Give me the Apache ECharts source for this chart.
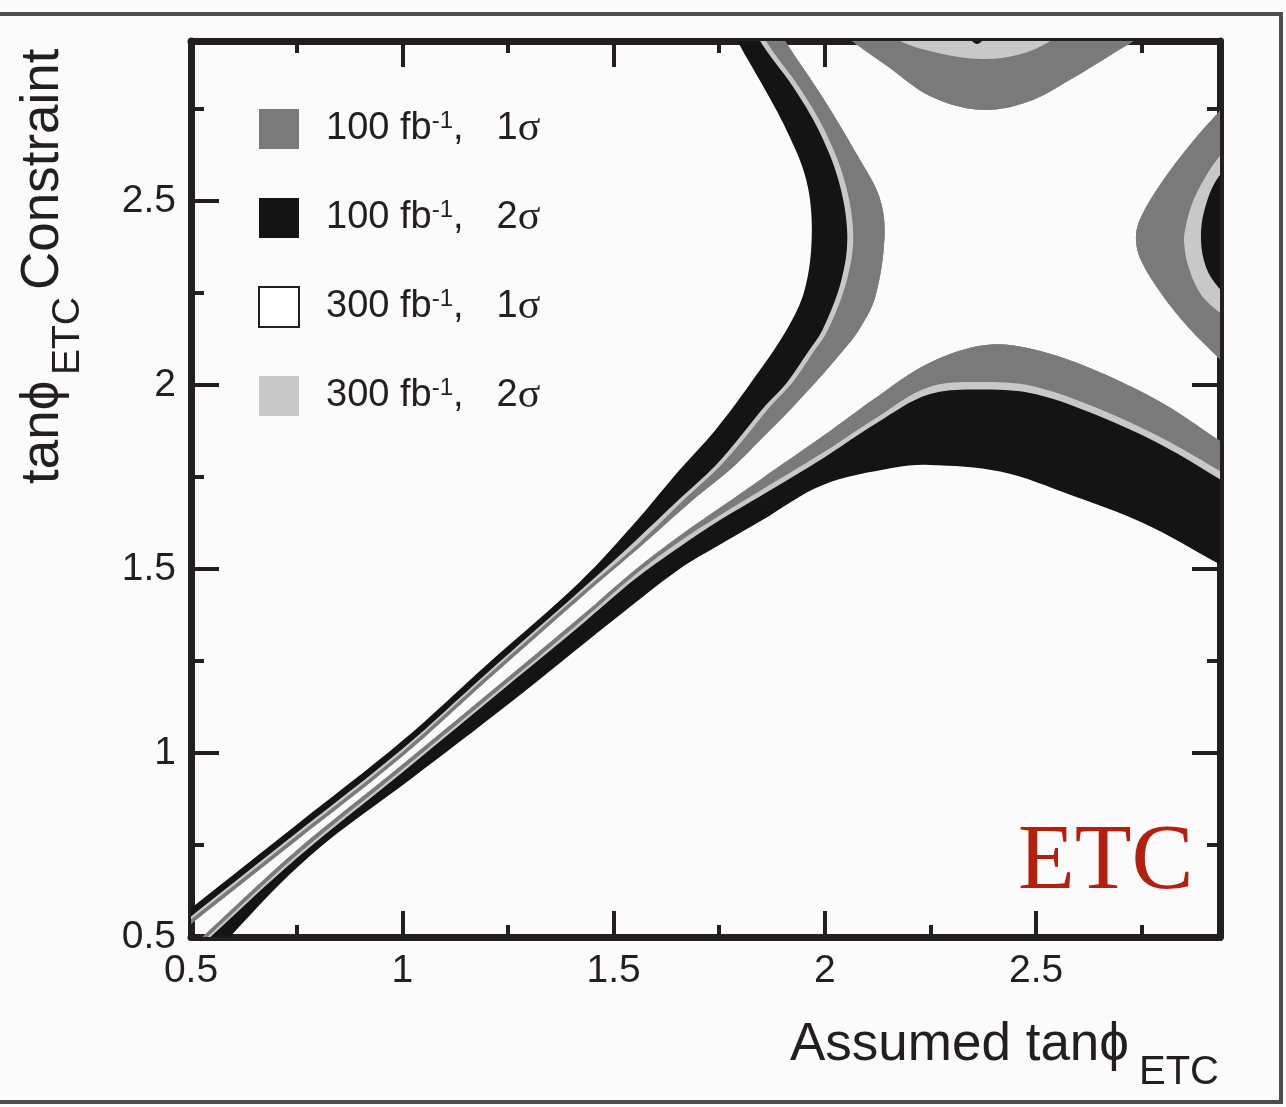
<!DOCTYPE html>
<html><head><meta charset="utf-8">
<script src="https://cdn.jsdelivr.net/npm/echarts@6/dist/echarts.min.js"></script>
<style>html,body{margin:0;padding:0;background:#fbfbfb}#c{width:1286px;height:1107px}</style>
</head><body><div id="c"></div>
<script>
// ---- tick values ----
const xMajorTicks = [0.5, 1, 1.5, 2, 2.5];
const xMinorTicks = [0.75, 1.25, 1.75, 2.25, 2.75];
const yMajorTicks = [0.5, 1, 1.5, 2, 2.5];
const yMinorTicks = [0.75, 1.25, 1.75, 2.25, 2.75];

// ---- legend / series names ----
const legendLumi = ['100', '100', '300', '300'];
const legendSigma = ['1', '2', '1', '2'];
const seriesNames = ['100 fb-1, 1σ', '100 fb-1, 2σ', '300 fb-1, 1σ', '300 fb-1, 2σ'];

// ---- contour boundaries (data units: [assumed tanφ, constraint tanφ]) ----
// A = centre-side edge, B = grey/light-grey edge, C = light-grey/black edge, D = outer edge
// Upper-left branch
const L_A = [[0.45,0.492],[0.5,0.536],[0.75,0.763],[1.0,0.991],[1.2,1.197],[1.42,1.42],[1.572,1.57],[1.69,1.69],[1.785,1.78],[1.855,1.86],[1.925,1.942],[1.98,2.01],[2.04,2.09],[2.08,2.149],[2.119,2.239],[2.141,2.405],[2.129,2.511],[2.079,2.62],[1.994,2.783],[1.909,2.929],[1.86,3.02]];
const L_B = [[0.45,0.504],[0.5,0.548],[0.75,0.775],[1.0,1.003],[1.2,1.209],[1.42,1.432],[1.56,1.57],[1.668,1.69],[1.752,1.78],[1.813,1.86],[1.873,1.945],[1.922,2.005],[1.973,2.09],[2.007,2.149],[2.052,2.285],[2.067,2.41],[2.046,2.557],[1.999,2.693],[1.939,2.81],[1.864,2.929],[1.824,3.02]];
const L_C = [[0.45,0.512],[0.5,0.556],[0.75,0.783],[1.0,1.011],[1.2,1.217],[1.42,1.44],[1.55,1.575],[1.656,1.69],[1.74,1.78],[1.80,1.86],[1.86,1.945],[1.909,2.005],[1.96,2.09],[1.994,2.149],[2.039,2.285],[2.053,2.41],[2.032,2.557],[1.985,2.693],[1.925,2.81],[1.850,2.929],[1.81,3.02]];
const L_D = [[0.45,0.532],[0.5,0.578],[0.75,0.805],[1.0,1.033],[1.2,1.24],[1.42,1.465],[1.55,1.625],[1.656,1.769],[1.741,1.878],[1.824,2.005],[1.909,2.149],[1.952,2.258],[1.969,2.41],[1.956,2.557],[1.909,2.693],[1.85,2.82],[1.796,2.929],[1.76,3.02]];

// Lower branch
const B_A = [[0.5,0.472],[0.527,0.5],[0.75,0.735],[1.0,0.968],[1.25,1.205],[1.42,1.368],[1.55,1.497],[1.656,1.59],[1.75,1.665],[1.85,1.745],[1.994,1.86],[2.12,1.965],[2.247,2.06],[2.382,2.109],[2.5,2.095],[2.65,2.035],[2.8,1.95],[2.931,1.851],[3.0,1.80]];
const B_B = [[0.5,0.459],[0.539,0.5],[0.75,0.722],[1.0,0.955],[1.25,1.192],[1.42,1.355],[1.55,1.484],[1.656,1.575],[1.75,1.645],[1.85,1.715],[1.994,1.815],[2.12,1.91],[2.247,1.995],[2.382,2.008],[2.5,1.995],[2.65,1.935],[2.8,1.855],[2.931,1.769],[3.0,1.72]];
const B_C = [[0.5,0.45],[0.546,0.5],[0.75,0.714],[1.0,0.947],[1.25,1.184],[1.42,1.345],[1.55,1.472],[1.656,1.56],[1.75,1.632],[1.85,1.70],[1.994,1.80],[2.12,1.895],[2.247,1.975],[2.382,1.988],[2.5,1.975],[2.65,1.915],[2.8,1.835],[2.931,1.747],[3.0,1.70]];
const B_D = [[0.55,0.43],[0.592,0.5],[0.784,0.723],[1.021,0.93],[1.259,1.14],[1.496,1.358],[1.656,1.50],[1.75,1.565],[1.85,1.632],[1.994,1.728],[2.162,1.775],[2.247,1.783],[2.415,1.765],[2.585,1.70],[2.753,1.625],[2.931,1.515],[3.0,1.47]];

// Top branch
const T_A = [[2.0,3.0],[2.059,2.94],[2.15,2.865],[2.25,2.785],[2.37,2.748],[2.48,2.77],[2.58,2.83],[2.68,2.9],[2.736,2.94],[2.8,3.0]];
const T_B = [[2.12,3.0],[2.17,2.94],[2.27,2.902],[2.37,2.886],[2.46,2.898],[2.54,2.94],[2.59,3.0]];
const T_C = [[2.32,3.0],[2.345,2.94],[2.36,2.927],[2.375,2.94],[2.40,3.0]];
const T_D = [[1.95,3.15],[2.85,3.15]];

// Right branch
const R_A = [[3.0,2.82],[2.931,2.740],[2.860,2.647],[2.796,2.549],[2.748,2.456],[2.736,2.40],[2.748,2.339],[2.796,2.249],[2.860,2.157],[2.931,2.075],[3.0,2.0]];
const R_B = [[3.0,2.70],[2.94,2.63],[2.90,2.565],[2.868,2.49],[2.852,2.42],[2.850,2.39],[2.858,2.33],[2.885,2.255],[2.92,2.21],[3.0,2.14]];
const R_C = [[3.0,2.64],[2.931,2.565],[2.898,2.475],[2.890,2.394],[2.902,2.32],[2.931,2.266],[3.0,2.19]];
const R_D = [[3.15,2.95],[3.15,1.85]];

const branches = [[L_A,L_B,L_C,L_D],[B_A,B_B,B_C,B_D],[T_A,T_B,T_C,T_D],[R_A,R_B,R_C,R_D]];
function band(inner, outer){ return inner.concat(outer.slice().reverse()); }
const blackPolys = branches.map(b => band(b[0], b[3]));
const lgrayPolys = branches.map(b => band(b[0], b[2]));
const grayPolys  = branches.map(b => band(b[0], b[1]));
const whitePolys = [];

const INK = '#231f20';
const FONT = 'Liberation Sans, Arial, Helvetica, sans-serif';
const SERIF = 'Liberation Serif, Times New Roman, serif';
const GRAY = '#7a7a7a', BLACK = '#141414', LGRAY = '#c8c8c8', WHITE = '#ffffff';

function polySeries(name, color, polys, z){
  return {
    type:'custom', name, coordinateSystem:'cartesian2d', xAxisIndex:0, yAxisIndex:0,
    clip:true, silent:true, z, itemStyle:{color},
    data: polys.map(() => [1, 1]),
    renderItem: (params, api) => ({
      type:'polygon',
      shape:{ points: polys[params.dataIndex].map(p => api.coord(p)), smooth:0.35 },
      style:{ fill: color }
    })
  };
}

const common = {type:'value', min:0.5, max:2.935, interval:0.5, splitLine:{show:false}};
function ax(pos, ticks, len, mainLine, labels){
  return Object.assign({}, common, {
    position: pos,
    axisLine:{show:mainLine, onZero:false, lineStyle:{color:INK, width:7}},
    axisTick:{show:true, inside:true, length:len, customValues:ticks, lineStyle:{color:INK, width:4}},
    axisLabel: labels ? {show:true, customValues:ticks, fontSize:39, color:INK, fontFamily:FONT,
                          margin: 15} : {show:false}
  });
}

const chart = echarts.init(document.getElementById('c'), null, {renderer:'canvas'});
const legendColors = [GRAY, BLACK, WHITE, LGRAY];
chart.setOption({
  animation:false,
  backgroundColor:'#fbfbfb',
  grid:{left:191, right:66, top:41, bottom:170},
  xAxis:[ ax('bottom', xMajorTicks, 26, true, true), ax('bottom', xMinorTicks, 12, false, false),
          ax('top', xMajorTicks, 26, true, false), ax('top', xMinorTicks, 12, false, false) ],
  yAxis:[ ax('left', yMajorTicks, 28, true, true), ax('left', yMinorTicks, 13, false, false),
          ax('right', yMajorTicks, 28, true, false), ax('right', yMinorTicks, 13, false, false) ],
  legend:{
    orient:'vertical', left:258, top:108, padding:0, itemWidth:40, itemHeight:40, itemGap:47,
    icon:'rect', selectedMode:false,
    data: seriesNames.map((n,i) => ({name:n, itemStyle: i===2 ? {color:WHITE, borderColor:INK, borderWidth:2} : {color:legendColors[i], borderWidth:0}})),
    formatter: name => { const i = seriesNames.indexOf(name);
      return '{sp|}{n|' + legendLumi[i] + ' fb}{sup|-1}{n|,}{gap|}{n|' + legendSigma[i] + '}{g|σ}'; },
    textStyle:{ color:INK, rich:{
      sp:{width:22},
      gap:{width:33},
      n:{fontSize:38, fontFamily:FONT, color:INK, lineHeight:40},
      sup:{fontSize:24, fontFamily:FONT, color:INK, lineHeight:22, verticalAlign:'top'},
      g:{fontSize:42, fontFamily:SERIF, color:INK, lineHeight:40}
    }}
  },
  graphic:[
    {type:'rect', z:-1, shape:{x:-10, y:14, width:1291, height:1088}, style:{fill:'none', stroke:'#4d4d4d', lineWidth:4}},
    {type:'text', z:50, x:1018, y:864, style:{text:'ETC', fill:'#b3200f', font:'93px "Liberation Serif", "Times New Roman", serif', align:'left', verticalAlign:'middle', textAlign:'left', textVerticalAlign:'middle'}},
    {type:'text', z:50, x:790, y:1045, style:{text:'Assumed tanϕ', fill:INK, font:'53px "Liberation Sans", Arial, sans-serif', align:'left', verticalAlign:'middle', textAlign:'left', textVerticalAlign:'middle'}},
    {type:'text', z:50, x:1139, y:1073, style:{text:'ETC', fill:INK, font:'40px "Liberation Sans", Arial, sans-serif', align:'left', verticalAlign:'middle', textAlign:'left', textVerticalAlign:'middle'}},
    {type:'text', z:50, x:43, y:484, rotation:Math.PI/2, style:{text:'tanϕ', fill:INK, font:'53px "Liberation Sans", Arial, sans-serif', align:'left', verticalAlign:'middle', textAlign:'left', textVerticalAlign:'middle'}},
    {type:'text', z:50, x:68, y:375, rotation:Math.PI/2, style:{text:'ETC', fill:INK, font:'39px "Liberation Sans", Arial, sans-serif', align:'left', verticalAlign:'middle', textAlign:'left', textVerticalAlign:'middle'}},
    {type:'text', z:50, x:43, y:290, rotation:Math.PI/2, style:{text:'Constraint', fill:INK, font:'53px "Liberation Sans", Arial, sans-serif', align:'left', verticalAlign:'middle', textAlign:'left', textVerticalAlign:'middle'}}
  ],
  series:[
    polySeries(seriesNames[1], BLACK, blackPolys, 2),
    polySeries(seriesNames[3], LGRAY, lgrayPolys, 3),
    polySeries(seriesNames[0], GRAY, grayPolys, 4),
    polySeries(seriesNames[2], WHITE, whitePolys, 5)
  ]
});
</script></body></html>
